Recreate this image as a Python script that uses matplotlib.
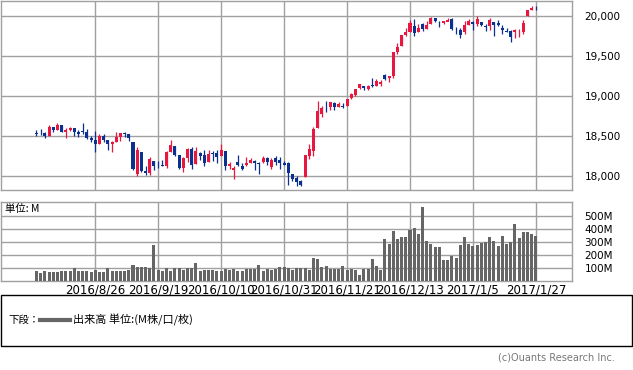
import pandas as pd
import matplotlib
matplotlib.use('Agg')
import matplotlib.pyplot as plt
from matplotlib.patches import Rectangle
from matplotlib.lines import Line2D
from matplotlib.ticker import FuncFormatter

# trading days (US market holidays removed)
holidays = ['2016-09-05', '2016-11-24', '2016-12-26', '2017-01-02', '2017-01-16']
dates = pd.bdate_range('2016-08-08', '2017-01-27')
dates = dates[~dates.isin(pd.to_datetime(holidays))]

tick_dates = ['2016-08-26', '2016-09-19', '2016-10-10', '2016-10-31',
              '2016-11-21', '2016-12-13', '2017-01-05', '2017-01-27']

opens = [18532, 18536, 18533, 18498, 18610, 18578, 18634, 18552, 18572, 18594,
         18550, 18560, 18547, 18478, 18450, 18396, 18502, 18453, 18396, 18420,
         18492, 18538, 18525, 18420, 18030, 18300, 18067, 18036, 18190, 18130,
         18140, 18130, 18300, 18370, 18260, 18094, 18228, 18340, 18150, 18290,
         18260, 18170, 18290, 18290, 18250, 18310, 18130, 18080, 18177, 18130,
         18140, 18165, 18190, 18160, 18180, 18220, 18110, 18230, 18200, 18162,
         18160, 18020, 17980, 17940, 17990, 18250, 18318, 18600, 18780, 18870,
         18858, 18910, 18866, 18880, 18880, 18970, 19015, 19100, 19130, 19090,
         19130, 19130, 19150, 19262, 19230, 19250, 19555, 19630, 19757, 19800,
         19875, 19800, 19900, 19835, 19900, 19970, 19925, 19910, 19930, 19960,
         19830, 19830, 19800, 19890, 19925, 19900, 19920, 19876, 19880, 19926,
         19910, 19850, 19810, 19810, 19795, 19794, 19794, 19994, 20070, 20102]
highs = [18580, 18584, 18555, 18638, 18611, 18668, 18634, 18598, 18609, 18594,
         18570, 18668, 18590, 18500, 18564, 18530, 18521, 18453, 18443, 18556,
         18538, 18552, 18525, 18420, 18360, 18300, 18120, 18236, 18190, 18190,
         18198, 18310, 18450, 18370, 18260, 18240, 18350, 18365, 18365, 18300,
         18330, 18320, 18310, 18320, 18400, 18312, 18170, 18120, 18260, 18160,
         18235, 18230, 18200, 18170, 18250, 18240, 18230, 18250, 18240, 18190,
         18180, 18030, 18000, 17950, 18260, 18400, 18615, 18934, 18870, 18934,
         18925, 18920, 18930, 18915, 18960, 19043, 19084, 19153, 19130, 19140,
         19225, 19215, 19200, 19275, 19255, 19550, 19660, 19757, 19850, 19950,
         19966, 19900, 19910, 19935, 19988, 19975, 19940, 19940, 19980, 19980,
         19860, 19850, 19940, 19960, 19935, 19999, 19930, 19900, 19973, 19930,
         19950, 19890, 19850, 19820, 19843, 19833, 19950, 20080, 20125, 20120]
lows = [18505, 18512, 18472, 18498, 18547, 18576, 18544, 18479, 18565, 18504,
        18486, 18530, 18462, 18420, 18300, 18396, 18429, 18330, 18295, 18420,
        18438, 18491, 18443, 18080, 17995, 18050, 18010, 18010, 18076, 18100,
        18120, 18105, 18300, 18247, 18090, 18050, 18170, 18090, 18150, 18200,
        18120, 18170, 18190, 18160, 18250, 18070, 18090, 17960, 18130, 18070,
        18130, 18160, 18080, 18030, 18160, 18140, 18090, 18140, 18090, 18140,
        17890, 17940, 17880, 17880, 17990, 18210, 18250, 18600, 18736, 18800,
        18830, 18830, 18866, 18850, 18880, 18960, 19000, 19090, 19070, 19075,
        19110, 19130, 19120, 19200, 19180, 19220, 19520, 19630, 19750, 19800,
        19750, 19800, 19810, 19835, 19900, 19930, 19860, 19900, 19935, 19830,
        19780, 19720, 19780, 19890, 19830, 19880, 19880, 19810, 19830, 19750,
        19880, 19770, 19800, 19680, 19722, 19732, 19780, 19994, 20070, 20070]
closes = [18529, 18533, 18496, 18613, 18576, 18636, 18552, 18574, 18598, 18553,
          18529, 18547, 18481, 18448, 18395, 18503, 18454, 18401, 18419, 18492,
          18538, 18526, 18480, 18085, 18325, 18067, 18035, 18212, 18124, 18120,
          18130, 18294, 18392, 18261, 18095, 18228, 18339, 18143, 18308, 18254,
          18168, 18281, 18269, 18240, 18329, 18129, 18144, 18099, 18138, 18086,
          18162, 18203, 18162, 18146, 18223, 18169, 18199, 18170, 18161, 18142,
          18037, 17960, 17931, 17888, 18260, 18333, 18590, 18808, 18848, 18869,
          18923, 18868, 18904, 18868, 18957, 19024, 19083, 19152, 19098, 19122,
          19124, 19192, 19170, 19216, 19252, 19550, 19615, 19757, 19796, 19911,
          19793, 19852, 19843, 19883, 19975, 19942, 19919, 19934, 19945, 19834,
          19820, 19763, 19882, 19942, 19899, 19964, 19887, 19856, 19954, 19891,
          19886, 19827, 19805, 19732, 19827, 19800, 19913, 20069, 20101, 20094]
# volume, million shares
volumes = [77, 64, 77, 67, 72, 72, 77, 80, 80, 97,
           80, 80, 80, 72, 87, 72, 72, 97, 80, 80,
           80, 80, 85, 123, 110, 105, 110, 97, 277, 85,
           80, 97, 80, 97, 97, 85, 97, 97, 138, 77,
           85, 85, 85, 80, 77, 92, 85, 92, 80, 80,
           92, 92, 95, 120, 80, 92, 87, 92, 108, 110,
           103, 87, 97, 97, 97, 85, 174, 167, 105, 113,
           95, 95, 95, 113, 85, 90, 85, 46, 90, 90,
           167, 113, 85, 323, 287, 385, 320, 338, 338, 395,
           408, 362, 572, 308, 287, 262, 262, 162, 162, 192,
           177, 280, 338, 287, 272, 280, 295, 297, 338, 308,
           269, 346, 287, 297, 438, 328, 377, 377, 364, 346]

price_ticks = [18000, 18500, 19000, 19500, 20000]
vol_ticks = [100, 200, 300, 400, 500]

UP = '#e8173f'
DOWN = '#0a3090'
GRID = '#a0a0a0'
JP = ['Noto Sans CJK JP', 'DejaVu Sans']

W, H = 633, 370


def rect(x0, y0, x1, y1):
    return [x0 / W, 1 - y1 / H, (x1 - x0) / W, (y1 - y0) / H]


df = pd.DataFrame({'open': opens, 'high': highs, 'low': lows,
                   'close': closes, 'volume': volumes}, index=dates)
df['x'] = range(len(df))
ticks_x = [df.index.get_loc(pd.Timestamp(d)) for d in tick_dates]
tick_labels = [f'{d.year}/{d.month}/{d.day}' for d in pd.to_datetime(tick_dates)]

fig = plt.figure(figsize=(W / 100, H / 100), dpi=100)
ax_p = fig.add_axes(rect(0.5, 1, 572, 190))
ax_v = fig.add_axes(rect(0.5, 202, 572, 281))

xlim = (-8.57, 127.6)

# candles
up = df['close'] >= df['open']
colors = [UP if u else DOWN for u in up]
body_lo = df[['open', 'close']].min(axis=1)
body_h = (df['close'] - df['open']).abs().clip(lower=8)
ax_p.vlines(df['x'], df['low'], df['high'], colors=colors, linewidth=0.9, zorder=3)
ax_p.bar(df['x'], body_h, bottom=body_lo, width=0.72, color=colors,
         linewidth=0, zorder=4)

ax_p.set_xlim(*xlim)
ax_p.set_ylim(17825, 20187)
ax_p.set_xticks(ticks_x)
ax_p.set_xticklabels([])
ax_p.set_yticks(price_ticks)
ax_p.yaxis.tick_right()
ax_p.yaxis.set_major_formatter(FuncFormatter(lambda v, p: f'{v:,.0f}'))
ax_p.tick_params(axis='both', length=0)
ax_p.tick_params(axis='y', pad=9, labelsize=7.5)
ax_p.grid(True, color=GRID, linewidth=1.0)
ax_p.set_axisbelow(True)

# volume
ax_v.bar(df['x'], df['volume'], width=0.72, color='#666666', linewidth=0, zorder=3)
ax_v.set_xlim(*xlim)
ax_v.set_ylim(0, 607)
ax_v.set_xticks(ticks_x)
ax_v.set_xticklabels(tick_labels)
ax_v.set_yticks(vol_ticks)
ax_v.set_yticklabels([f'{v}M' for v in vol_ticks])
ax_v.yaxis.tick_right()
ax_v.tick_params(axis='both', length=0)
ax_v.tick_params(axis='y', pad=9, labelsize=7.5)
ax_v.tick_params(axis='x', pad=2, labelsize=8.5)
ax_v.grid(True, color=GRID, linewidth=1.0)
ax_v.set_axisbelow(True)

for ax in (ax_p, ax_v):
    for s in ax.spines.values():
        s.set_color(GRID)
        s.set_linewidth(1.0)

fig.text(5 / W, 1 - 209 / H, '単位: M', family=JP, fontsize=7.5, va='center')

# legend box at the bottom
fig.add_artist(Rectangle((0.5 / W, 1 - 346 / H), 631.5 / W, 51 / H,
                         transform=fig.transFigure, fill=False,
                         edgecolor='black', linewidth=1.0))
fig.text(8 / W, 1 - 320 / H, '下段：', family=JP, fontsize=7.5, va='center')
fig.add_artist(Line2D([40 / W, 70 / W], [1 - 320 / H, 1 - 320 / H],
                      transform=fig.transFigure, color='#666666', linewidth=3))
fig.text(73 / W, 1 - 320 / H, '出来高 単位:(M株/口/枚)', family=JP,
         fontsize=8, va='center')

fig.text(615 / W, 1 - 357 / H, '(c)Ouants Research Inc.', fontsize=7,
         color='#777777', ha='right', va='center')

fig.savefig('out.png', dpi=100)
